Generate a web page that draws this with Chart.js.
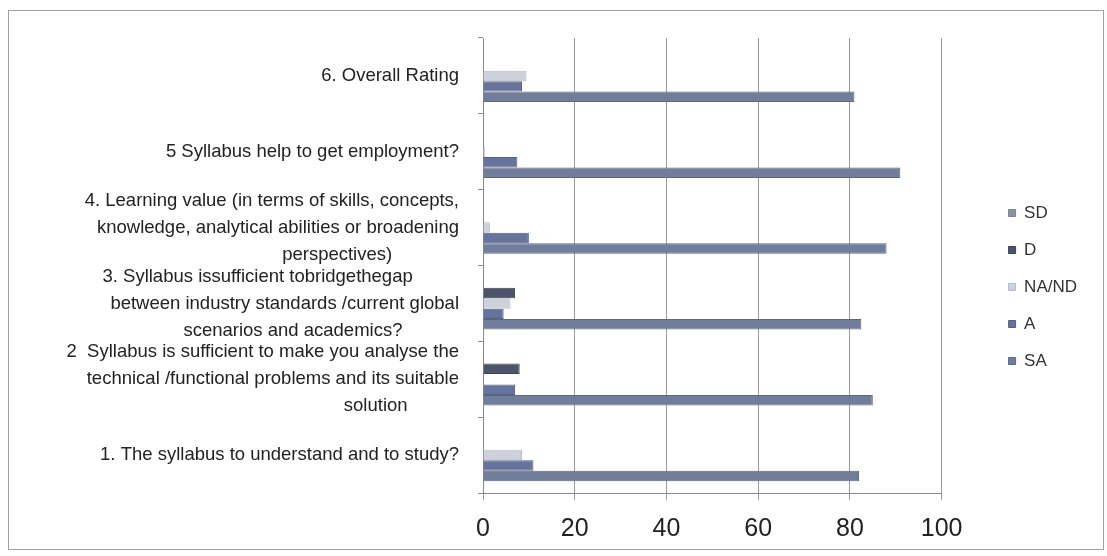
<!DOCTYPE html>
<html>
<head>
<meta charset="utf-8">
<script src="https://cdn.jsdelivr.net/npm/chart.js@4.4.1/dist/chart.umd.min.js"></script>
<style>
  html, body { margin: 0; padding: 0; background: #ffffff; }
  #wrap { position: relative; width: 1107px; height: 556px; overflow: hidden; }
  #frame { position: absolute; left: 8px; top: 10px; width: 1096px; height: 540px; border: 1px solid #a0a0a0; box-sizing: border-box; }
  #c { position: absolute; left: 0; top: 0; }
</style>
</head>
<body>
<div id="wrap">
  <div id="frame"></div>
  <canvas id="c" width="1107" height="556"></canvas>
</div>
<script>
// Categories listed top to bottom as drawn
const categories = [
  ["6. Overall Rating"],
  ["5 Syllabus help to get employment?"],
  ["4. Learning value (in terms of skills, concepts,", "knowledge, analytical abilities or broadening", "perspectives)             "],
  ["3. Syllabus issufficient tobridgethegap         ", "between industry standards /current global", "scenarios and academics?           "],
  ["2  Syllabus is sufficient to make you analyse the", "technical /functional problems and its suitable", "solution          "],
  ["1. The syllabus to understand and to study?"]
];
const seriesNames = ["SD", "D", "NA/ND", "A", "SA"];
const sdValues = [0, 0, 0, 0, 0, 0];
const dValues = [0, 0, 0, 7, 8, 0];
const naValues = [9.5, 0.5, 1.5, 6, 0, 8.5];
const aValues = [8.5, 7.5, 10, 4.5, 7, 11];
const saValues = [81, 91, 88, 82.5, 85, 82];
const xTicks = [0, 20, 40, 60, 80, 100];

const fills = ["#8d93a3", "#4c5469", "#cdd1db", "#66739a", "#717e9b"];
const borders = ["#7a8090", "#3c4357", "#b6bbc7", "#535f82", "#5a6685"];
const seriesValues = [sdValues, dValues, naValues, aValues, saValues];

const FONT = "'Liberation Sans', Arial, sans-serif";

new Chart(document.getElementById('c'), {
  type: 'bar',
  data: {
    labels: categories,
    datasets: seriesNames.map((n, i) => ({
      label: n,
      data: seriesValues[i],
      backgroundColor: fills[i],
      borderColor: borders[i],
      borderWidth: 1,
      yAxisID: 'y',
      categoryPercentage: 0.69,
      barPercentage: 1.0
    }))
  },
  options: {
    indexAxis: 'y',
    responsive: false,
    animation: false,
    devicePixelRatio: 1,
    layout: { padding: { top: 38, left: 0, right: 20, bottom: 20 } },
    plugins: {
      tooltip: { enabled: false },
      legend: {
        position: 'right',
        align: 'center',
        labels: {
          boxWidth: 7,
          boxHeight: 7,
          padding: 20,
          color: '#333333',
          font: { family: FONT, size: 17 }
        }
      }
    },
    scales: {
      x: {
        type: 'linear',
        min: 0,
        max: 100,
        afterBuildTicks: (s) => { s.ticks = xTicks.map(v => ({ value: v })); },
        afterFit: (s) => { s.height = 43; s.paddingLeft = 0; s.paddingRight = 0; },
        grid: { color: '#9a9a9a', lineWidth: 1, tickLength: 7, tickColor: '#9a9a9a' },
        border: { display: true, color: '#8a8a8a' },
        ticks: { color: '#222222', padding: 14, font: { family: FONT, size: 25 } }
      },
      y: {
        type: 'category',
        position: 'left',
        afterFit: (s) => { s.width = 483; s.paddingTop = 0; s.paddingBottom = 0; },
        grid: { display: true, drawOnChartArea: false, drawTicks: true, tickLength: 5, color: '#8a8a8a', offset: true },
        border: { display: true, color: '#8a8a8a' },
        ticks: { color: '#222222', padding: 19, autoSkip: false, crossAlign: 'near', font: { family: FONT, size: 18.5, lineHeight: 1.46 } }
      },
      yPad: {
        type: 'category',
        axis: 'y',
        position: 'right',
        labels: [''],
        afterFit: (s) => { s.width = 47; s.paddingTop = 0; s.paddingBottom = 0; },
        grid: { display: false, drawTicks: false },
        border: { display: false },
        ticks: { display: false }
      }
    }
  }
});
</script>
</body>
</html>
